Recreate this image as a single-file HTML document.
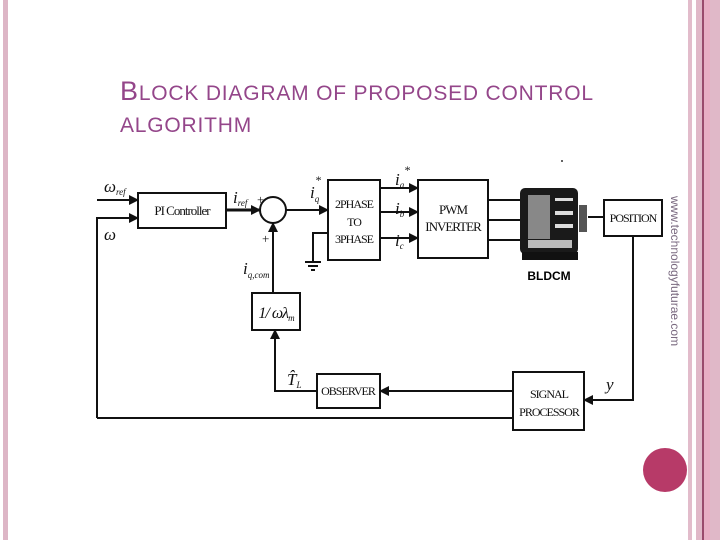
<!DOCTYPE html>
<html><head><meta charset="utf-8"><style>
html,body{margin:0;padding:0;background:#fff;}
body{width:720px;height:540px;position:relative;overflow:hidden;font-family:"Liberation Sans",sans-serif;}
.t{position:absolute;left:120px;color:#94468a;font-size:21px;letter-spacing:0.8px;line-height:1;white-space:nowrap;}
.t b{font-weight:normal;font-size:27px;}
</style></head><body>
<div style="position:absolute;left:3px;top:0;width:5px;height:540px;background:#ddb6c6"></div>
<div style="position:absolute;left:688px;top:0;width:4px;height:540px;background:#e2bccb"></div>
<div style="position:absolute;left:696px;top:0;width:24px;height:540px;background:#e0b8c8"></div>
<div style="position:absolute;left:702px;top:0;width:2px;height:540px;background:#9a4a6c"></div>
<div style="position:absolute;left:704px;top:0;width:6px;height:540px;background:#e8aec4"></div>
<div class="t" style="top:78px"><b>B</b>LOCK DIAGRAM OF PROPOSED CONTROL</div>
<div class="t" style="top:115px">ALGORITHM</div>
<svg width="720" height="540" style="position:absolute;left:0;top:0" font-family="Liberation Serif,serif">
<defs><marker id="a" markerWidth="10" markerHeight="10" refX="9" refY="5" orient="auto" markerUnits="userSpaceOnUse"><path d="M0,0 L10,5 L0,10 Z" fill="#111"/></marker></defs>
<g stroke="#111" stroke-width="2" fill="none">
<rect x="138" y="193" width="88" height="35" fill="#fff"/>
<circle cx="273" cy="210" r="13"/>
<rect x="328" y="180" width="52" height="80"/>
<rect x="418" y="180" width="70" height="78"/>
<rect x="252" y="293" width="48" height="37"/>
<rect x="604" y="200" width="58" height="36"/>
<rect x="317" y="374" width="63" height="34"/>
<rect x="513" y="372" width="71" height="58"/>
<line x1="97" y1="200" x2="138" y2="200" marker-end="url(#a)"/>
<polyline points="97,418 97,218 138,218" marker-end="url(#a)"/>
<line x1="226" y1="210" x2="260" y2="210" stroke-width="3" marker-end="url(#a)"/>
<line x1="286" y1="210" x2="328" y2="210" marker-end="url(#a)"/>
<line x1="273" y1="293" x2="273" y2="223" marker-end="url(#a)"/>
<polyline points="328,233 313,233 313,262"/>
<line x1="305" y1="262" x2="321" y2="262"/><line x1="308" y1="266" x2="318" y2="266"/><line x1="311" y1="270" x2="315" y2="270"/>
<line x1="380" y1="188" x2="418" y2="188" marker-end="url(#a)"/>
<line x1="380" y1="212" x2="418" y2="212" marker-end="url(#a)"/>
<line x1="380" y1="238" x2="418" y2="238" marker-end="url(#a)"/>
<line x1="488" y1="200" x2="520" y2="200"/><line x1="488" y1="220" x2="520" y2="220"/><line x1="488" y1="240" x2="520" y2="240"/>
<line x1="588" y1="217" x2="604" y2="217"/>
<polyline points="633,236 633,400 584,400" marker-end="url(#a)"/>
<line x1="513" y1="391" x2="380" y2="391" marker-end="url(#a)"/>
<polyline points="317,391 275,391 275,330" marker-end="url(#a)"/>
<polyline points="513,418 97,418"/>
</g>
<g>
<rect x="520" y="188" width="58" height="66" rx="5" fill="#1a1a1a"/>
<rect x="528" y="195" width="22" height="44" fill="#888"/>
<rect x="555" y="198" width="18" height="3" fill="#ddd"/><rect x="555" y="211" width="18" height="4" fill="#ddd"/><rect x="555" y="224" width="18" height="4" fill="#ddd"/>
<rect x="528" y="240" width="44" height="8" fill="#bbb"/>
<rect x="522" y="252" width="56" height="8" fill="#111"/>
<rect x="579" y="205" width="8" height="27" fill="#555"/>
<text x="549" y="280" font-family="Liberation Sans,sans-serif" font-size="12" font-weight="bold" text-anchor="middle">BLDCM</text>
</g>
<g font-size="13" fill="#111" letter-spacing="-1">
<text x="182" y="215" text-anchor="middle">PI Controller</text>
<text x="354" y="208" text-anchor="middle" font-size="12">2PHASE</text>
<text x="354" y="226" text-anchor="middle" font-size="12">TO</text>
<text x="354" y="243" text-anchor="middle" font-size="12">3PHASE</text>
<text x="453" y="214" text-anchor="middle">PWM</text>
<text x="453" y="231" text-anchor="middle">INVERTER</text>
<text x="633" y="222" text-anchor="middle" font-size="12">POSITION</text>
<text x="348" y="395" text-anchor="middle" font-size="12">OBSERVER</text>
<text x="549" y="398" text-anchor="middle" font-size="12">SIGNAL</text>
<text x="549" y="416" text-anchor="middle" font-size="12">PROCESSOR</text>
<text x="276" y="318" text-anchor="middle" font-size="16" font-style="italic">1/ ωλ<tspan font-size="9" dy="3">m</tspan></text>
</g>
<g font-style="italic" fill="#111" font-size="17">
<text x="104" y="192">ω<tspan font-size="9" dy="3">ref</tspan></text>
<text x="104" y="240">ω</text>
<text x="233" y="203">i<tspan font-size="9" dy="3">ref</tspan></text>
<text x="257" y="204" font-size="13" font-style="normal">+</text>
<text x="262" y="243" font-size="13" font-style="normal">+</text>
<text x="310" y="198">i<tspan font-size="9" dy="4">q</tspan></text>
<text x="315" y="184" font-size="12">*</text>
<text x="243" y="274">i<tspan font-size="9" dy="4">q,com</tspan></text>
<text x="395" y="185">i<tspan font-size="9" dy="3">a</tspan></text>
<text x="404" y="174" font-size="12">*</text>
<text x="395" y="214">i<tspan font-size="9" dy="3">b</tspan></text>
<text x="395" y="246">i<tspan font-size="9" dy="3">c</tspan></text>
<text x="287" y="385">T̂<tspan font-size="9" dy="3">L</tspan></text>
<text x="606" y="390">y</text>
</g>
<circle cx="562" cy="161" r="1" fill="#333"/>
<text transform="translate(671,196) rotate(90)" font-family="Liberation Sans,sans-serif" font-size="12" fill="#7a6a80">www.technologyfuturae.com</text>
<circle cx="665" cy="470" r="22" fill="#b73a68"/>
</svg>
</body></html>
